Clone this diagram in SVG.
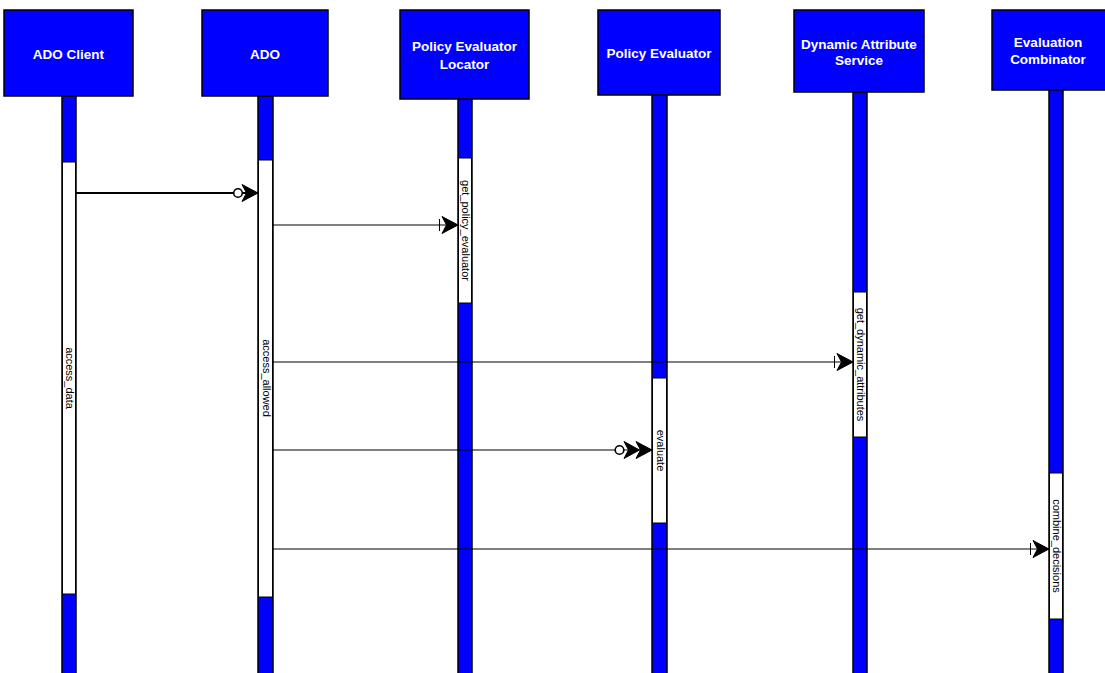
<svg xmlns="http://www.w3.org/2000/svg" width="1105" height="673" viewBox="0 0 1105 673">
<style>
.box{fill:#0000ff;stroke:#000;stroke-width:1.5}
.life{fill:#0000ff;stroke:#000;stroke-width:1.5}
.act{fill:#fff;stroke:#000;stroke-width:1}
.title{font-family:"Liberation Sans",Arial,sans-serif;font-weight:bold;font-size:13.5px;fill:#fff;text-anchor:middle}
.lbl{font-family:"Liberation Sans",Arial,sans-serif;font-size:11px;fill:#000;text-anchor:middle;dominant-baseline:central}
.msg{stroke:#000;stroke-width:1;fill:none}
.msg2{stroke:#000;stroke-width:2;fill:none}
</style>
<defs>
<marker id="mCircArrow" markerUnits="userSpaceOnUse" viewBox="-28 -10 30 20" refX="0" refY="0" markerWidth="30" markerHeight="20" orient="auto" overflow="visible">
<circle cx="-20" cy="0" r="4.3" fill="#fff" stroke="#000" stroke-width="1.6"/>
<path d="M0,0 L-16,-8.5 L-11.5,0 L-16,8.5 Z" fill="#000" stroke="#000" stroke-width="1"/>
</marker>
<marker id="mCircDouble" markerUnits="userSpaceOnUse" viewBox="-40 -10 42 20" refX="0" refY="0" markerWidth="42" markerHeight="20" orient="auto" overflow="visible">
<circle cx="-32.5" cy="0" r="4.3" fill="#fff" stroke="#000" stroke-width="1.6"/>
<path d="M-12.5,0 L-28,-8.5 L-23.5,0 L-28,8.5 Z" fill="#000" stroke="#000" stroke-width="1"/>
<path d="M0,0 L-16,-8.5 L-11.5,0 L-16,8.5 Z" fill="#000" stroke="#000" stroke-width="1"/>
</marker>
<marker id="mTickArrow" markerUnits="userSpaceOnUse" viewBox="-22 -10 24 20" refX="0" refY="0" markerWidth="24" markerHeight="20" orient="auto" overflow="visible">
<path d="M-18.5,-6 L-18.5,6" stroke="#000" stroke-width="1" fill="none"/>
<path d="M0,0 L-16,-8.5 L-11.5,0 L-16,8.5 Z" fill="#000" stroke="#000" stroke-width="1"/>
</marker>
</defs>

<g id="adoClient">
<rect class="life" x="62" y="96" width="14" height="580"/>
<rect class="act" x="62.5" y="162" width="13" height="432"/>
<text class="lbl" transform="translate(70,378) rotate(90)">access_data</text>
<rect class="box" x="4" y="10" width="129" height="86"/>
<text class="title" x="68.5" y="59">ADO Client</text>
</g>

<g id="ado">
<rect class="life" x="258" y="96" width="15" height="580"/>
<rect class="act" x="258.5" y="160" width="14" height="437"/>
<text class="lbl" transform="translate(266.5,378) rotate(90)">access_allowed</text>
<rect class="box" x="202" y="10" width="126" height="86"/>
<text class="title" x="265" y="59">ADO</text>
</g>

<g id="policyEvaluatorLocator">
<rect class="life" x="458" y="98" width="14" height="578"/>
<rect class="act" x="458.5" y="158" width="13" height="145"/>
<text class="lbl" transform="translate(466,230.5) rotate(90)">get_policy_evaluator</text>
<rect class="box" x="400" y="10" width="129" height="89"/>
<text class="title" x="464.5" y="51">Policy Evaluator</text>
<text class="title" x="464.5" y="69">Locator</text>
</g>

<g id="policyEvaluator">
<rect class="life" x="652" y="95" width="15" height="581"/>
<rect class="act" x="652.5" y="378" width="14" height="145"/>
<text class="lbl" transform="translate(660.5,450.5) rotate(90)">evaluate</text>
<rect class="box" x="598" y="10" width="122" height="85"/>
<text class="title" x="659" y="58">Policy Evaluator</text>
</g>

<g id="dynamicAttributeService">
<rect class="life" x="853" y="92" width="14" height="584"/>
<rect class="act" x="853.5" y="292" width="13" height="145"/>
<text class="lbl" transform="translate(861,364.5) rotate(90)">get_dynamic_attributes</text>
<rect class="box" x="794" y="10" width="130" height="82"/>
<text class="title" x="859" y="48.5">Dynamic Attribute</text>
<text class="title" x="859" y="65">Service</text>
</g>

<g id="evaluationCombinator">
<rect class="life" x="1049" y="89" width="14" height="587"/>
<rect class="act" x="1049.5" y="473" width="13" height="146"/>
<text class="lbl" transform="translate(1057,546) rotate(90)">combine_decisions</text>
<rect class="box" x="992" y="10" width="120" height="80"/>
<text class="title" x="1048" y="47">Evaluation</text>
<text class="title" x="1048" y="64">Combinator</text>
</g>

<g id="connectors">
<line class="msg2" x1="76" y1="193" x2="258" y2="193" marker-end="url(#mCircArrow)"/>
<line class="msg" x1="273" y1="225" x2="458" y2="225" marker-end="url(#mTickArrow)"/>
<line class="msg" x1="273" y1="362" x2="853" y2="362" marker-end="url(#mTickArrow)"/>
<line class="msg" x1="273" y1="450" x2="652" y2="450" marker-end="url(#mCircDouble)"/>
<line class="msg" x1="273" y1="549" x2="1049" y2="549" marker-end="url(#mTickArrow)"/>
</g>
</svg>
